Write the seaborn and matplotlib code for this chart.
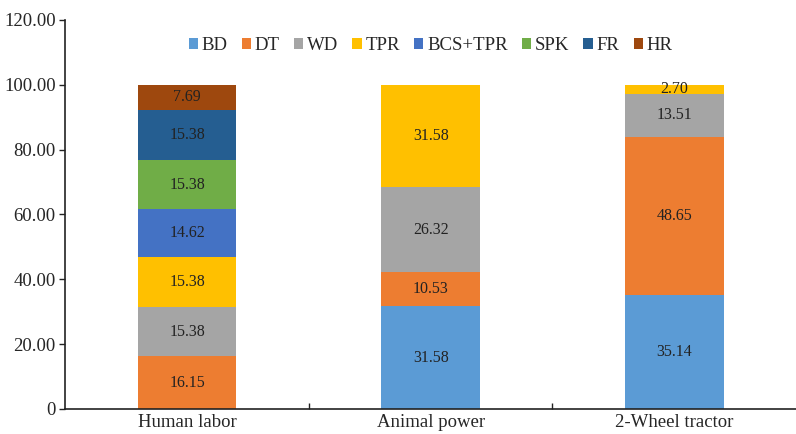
import numpy as np
import pandas as pd
import matplotlib
matplotlib.use("Agg")
import matplotlib.pyplot as plt
from matplotlib.patches import Patch
import seaborn as sns

sns.set_style("white")
plt.rcParams['font.family'] = ['Liberation Serif', 'DejaVu Serif']

# data
categories = ['Human labor', 'Animal power', '2-Wheel tractor']
segments = ['BD', 'DT', 'WD', 'TPR', 'BCS+TPR', 'SPK', 'FR', 'HR']
BD = [0.00, 31.58, 35.14]
DT = [16.15, 10.53, 48.65]
WD = [15.38, 26.32, 13.51]
TPR = [15.38, 31.58, 2.70]
BCS_TPR = [14.62, 0.00, 0.00]
SPK = [15.38, 0.00, 0.00]
FR = [15.38, 0.00, 0.00]
HR = [7.69, 0.00, 0.00]
colors = ['#5B9BD5', '#ED7D31', '#A5A5A5', '#FFC000',
          '#4472C4', '#70AD47', '#255E91', '#9E480E']

vals = np.array([BD, DT, WD, TPR, BCS_TPR, SPK, FR, HR])
cum = vals.cumsum(axis=0)

fig = plt.figure(figsize=(7.96, 4.34), dpi=100)
ax = fig.add_axes([0.082, 0.058, 0.918, 0.896])

# draw stacked bars from top segment down so lower ones cover
for k in range(len(segments) - 1, -1, -1):
    df = pd.DataFrame({'cat': categories, 'top': cum[k]})
    sns.barplot(data=df, x='cat', y='top', color=colors[k], width=0.405,
                saturation=1, ax=ax, linewidth=0)

for k in range(len(segments)):
    for i in range(len(categories)):
        v = vals[k, i]
        if v > 0:
            ax.text(i, cum[k, i] - v / 2, f'{v:.2f}', ha='center', va='center',
                    fontsize=11.5, color='#222222')

ax.set_ylim(0, 120)
ax.set_xlim(-0.5, 2.5)
ax.set_yticks(np.arange(0, 121, 20))
ax.set_yticklabels(['0'] + [f'{t:.2f}' for t in np.arange(20, 121, 20)], fontsize=13.5)
ax.set_xticks([0.5, 1.5], minor=True)
ax.tick_params(axis='x', which='major', labelsize=13.5, length=0, pad=4)
ax.tick_params(axis='x', which='minor', length=4, width=1, direction='in',
               bottom=True, color='#222222')
ax.tick_params(axis='y', length=4, width=1, direction='out', left=True, pad=3,
               color='#222222')
ax.set_xlabel('')
ax.set_ylabel('')
for s in ['top', 'right']:
    ax.spines[s].set_visible(False)
for s in ['left', 'bottom']:
    ax.spines[s].set_color('#222222')
    ax.spines[s].set_linewidth(1.2)

handles = [Patch(facecolor=c, edgecolor='none') for c in colors]
ax.legend(handles, segments, loc='upper center', bbox_to_anchor=(0.5, 1.0),
          ncol=8, frameon=False, fontsize=13.5, handlelength=0.5, handleheight=0.5,
          handletextpad=0.2, columnspacing=0.75)

fig.savefig('out.png', dpi=100)
